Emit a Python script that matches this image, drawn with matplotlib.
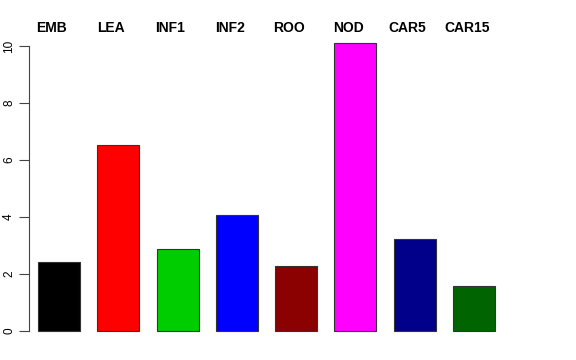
import matplotlib
matplotlib.use("Agg")
import matplotlib.pyplot as plt

labels = ["EMB", "LEA", "INF1", "INF2", "ROO", "NOD", "CAR5", "CAR15"]
values = [2.42, 6.53, 2.88, 4.07, 2.28, 10.1, 3.23, 1.58]
colors = ["#000000", "#FF0000", "#00CD00", "#0000FF", "#8B0000", "#FF00FF", "#00008B", "#006400"]
yticks = [0, 2, 4, 6, 8, 10]

plt.rcParams['font.family'] = ['Liberation Sans', 'DejaVu Sans']

fig = plt.figure(figsize=(5.76, 3.6), dpi=100)
# axes placed in pixel terms: left 29, right 560, bottom 345, top 30
ax = fig.add_axes([29 / 576, 15 / 360, 531 / 576, 315 / 360])

x = list(range(len(labels)))
ax.bar(x, values, width=0.708, color=colors, edgecolor="#333333", linewidth=0.8)

ax.set_xlim(-0.506, 8.45)
ax.set_ylim(-0.491, 10.561)

for s in ["top", "right", "bottom"]:
    ax.spines[s].set_visible(False)
ax.spines["left"].set_bounds(0, 10)
ax.spines["left"].set_color("#444444")
ax.set_xticks([])
ax.set_yticks(yticks)
ax.set_yticklabels([str(t) for t in yticks], rotation=90, va="center", fontsize=8.5)
ax.tick_params(axis="y", length=7, width=0.8, color="#444444", pad=3)

for i, lab in enumerate(labels):
    ax.text(i - 0.12, 10.63, lab, ha="center", va="center", fontsize=10,
            fontweight="bold", clip_on=False)

fig.savefig("out.png", dpi=100)
